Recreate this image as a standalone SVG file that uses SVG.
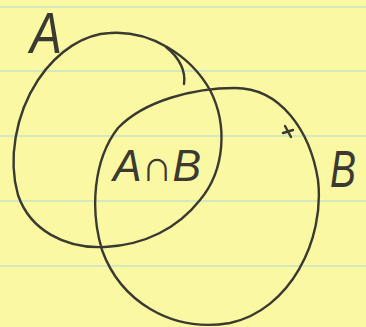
<svg xmlns="http://www.w3.org/2000/svg" width="366" height="327" viewBox="0 0 366 327">
<style>
.ink{fill:none;stroke:#3b3a30;stroke-width:2.4;stroke-linecap:round;stroke-linejoin:round}
.rule{stroke:#c9e2c6;stroke-width:1.5}
.lbl{font-family:"Liberation Sans","DejaVu Sans",sans-serif;fill:#3b3a30;font-style:italic}
</style>
<rect width="366" height="327" fill="#fbf8a4"/>
<g id="paper-lines">
<line class="rule" x1="0" y1="7" x2="366" y2="7"/>
<line class="rule" x1="0" y1="71" x2="366" y2="71"/>
<line class="rule" x1="0" y1="136" x2="366" y2="136"/>
<line class="rule" x1="0" y1="201" x2="366" y2="201"/>
<line class="rule" x1="0" y1="266" x2="366" y2="266"/>
</g>
<g id="setA">
<path class="ink" d="M110,33 C150,30 190,55 210,90 C228,125 225,170 200,200 C178,228 145,245 105,247 C65,249 30,230 18,195 C8,160 15,115 38,80 C58,50 85,34 110,33 Z"/>
<path class="ink" d="M166,47 C180,58 186,72 184,84"/>
<text class="lbl" x="30" y="53" font-size="58" textLength="32" lengthAdjust="spacingAndGlyphs">A</text>
</g>
<g id="setB">
<path class="ink" d="M235,88 C280,88 310,130 318,180 C325,240 290,310 230,323 C170,333 120,300 102,250 C90,210 93,160 118,128 C145,100 195,88 235,88 Z"/>
<path class="ink" d="M285,126 L291,137 M283,133 L293,130"/>
<text class="lbl" x="330" y="187" font-size="52" textLength="26" lengthAdjust="spacingAndGlyphs">B</text>
</g>
<g id="intersection">
<text class="lbl" x="113" y="181" font-size="44" textLength="88" lengthAdjust="spacingAndGlyphs">A∩B</text>
</g>
<g id="connectors"></g>
</svg>
